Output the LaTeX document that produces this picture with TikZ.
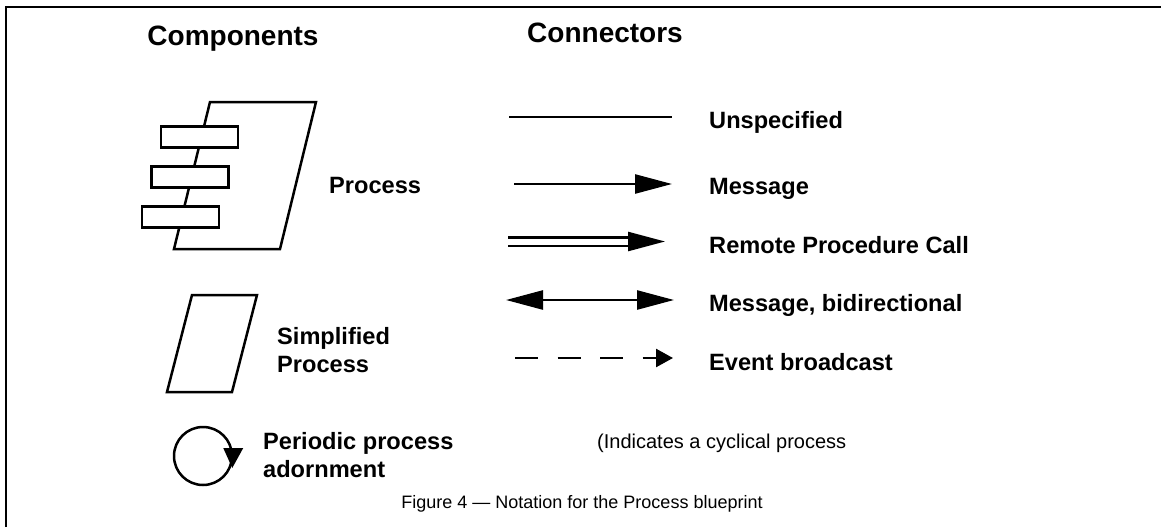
\documentclass[tikz,border=0pt]{standalone}
\usepackage{fontspec}
\setmainfont{Liberation Sans}
\usetikzlibrary{arrows.meta}
\tikzset{
  shp/.style={line width=2.5pt, line join=miter},
  tab/.style={draw, fill=white, line width=2.5pt, minimum width=77pt, minimum height=21pt, inner sep=0pt},
  lbl/.style={anchor=base west, inner sep=0pt, font=\fontsize{23.6}{28}\selectfont\bfseries},
  head/.style={anchor=base, inner sep=0pt, font=\fontsize{28}{32}\selectfont\bfseries},
  conn/.style={line width=2.5pt},
  tip/.style={-{Triangle[length=37pt,width=19pt]}},
}
\begin{document}
\begin{tikzpicture}[x=1pt,y=-1pt]
\useasboundingbox (0,0) rectangle (1161,527);
\draw[line width=2pt] (6,527) -- (6,7) -- (1161,7);

\node[head] (comp) at (233,46) {Components};
\node[head] (conn) at (605,43) {Connectors};

% process
\draw[shp] (210,102) -- (316,102) -- (280,249) -- (174,249) -- cycle;
\node[tab] (tab1) at (199.5,137) {};
\node[tab] (tab2) at (190,177) {};
\node[tab] (tab3) at (180.5,217) {};
\node[lbl] (proc) at (329,193) {Process};

% simplified process
\draw[shp] (192,295) -- (257,295) -- (232,392) -- (167,392) -- cycle;
\node[lbl, align=left] (simp) at (277,372) {Simplified\\Process};

% periodic
\node[circle, draw, line width=2.5pt, minimum size=58pt, inner sep=0pt] (cyc) at (203,456) {};
\fill ([shift={(-10,-8)}]cyc.east) -- ([shift={(10,-8)}]cyc.east) -- ([shift={(-1,12)}]cyc.east) -- cycle;
\node[lbl, align=left] (peri) at (263,477) {Periodic process\\adornment};

% connectors
\coordinate (unspA) at (509,117);
\coordinate (unspB) at (672,117);
\draw[conn] (unspA) -- (unspB);
\node[lbl] (unsp) at (709,128) {Unspecified};

\coordinate (msgA) at (514,184);
\coordinate (msgB) at (672,184);
\draw[conn, tip] (msgA) -- (msgB);
\node[lbl] (msg) at (709,194) {Message};

\coordinate (rpcA) at (508,241.5);
\coordinate (rpcM) at (628,241.5);
\coordinate (rpcB) at (665,241.5);
\draw[line width=2.5pt, double, double distance=6pt] (rpcA) -- (rpcM);
\draw[conn, tip] (rpcM) -- (rpcB);
\node[lbl] (rpc) at (709,253) {Remote Procedure Call};

\coordinate (bidA) at (506,300);
\coordinate (bidB) at (674,300);
\draw[conn, {Triangle[length=37pt,width=19pt]}-{Triangle[length=37pt,width=19pt]}] (bidA) -- (bidB);
\node[lbl] (bid) at (709,311) {Message, bidirectional};

\coordinate (evtA) at (515,358);
\coordinate (evtB) at (673,358);
\draw[conn, dash pattern=on 23pt off 19.5pt, -{Triangle[length=17pt,width=18pt]}] (evtA) -- (evtB);
\node[lbl] (evt) at (709,370) {Event broadcast};

\node[anchor=base west, inner sep=0pt, font=\fontsize{20}{24}\selectfont] (note) at (597,448) {(Indicates a cyclical process};

\node[anchor=base, inner sep=0pt, font=\fontsize{18}{22}\selectfont] (capt) at (582,508) {Figure 4 — Notation for the Process blueprint};
\end{tikzpicture}
\end{document}
